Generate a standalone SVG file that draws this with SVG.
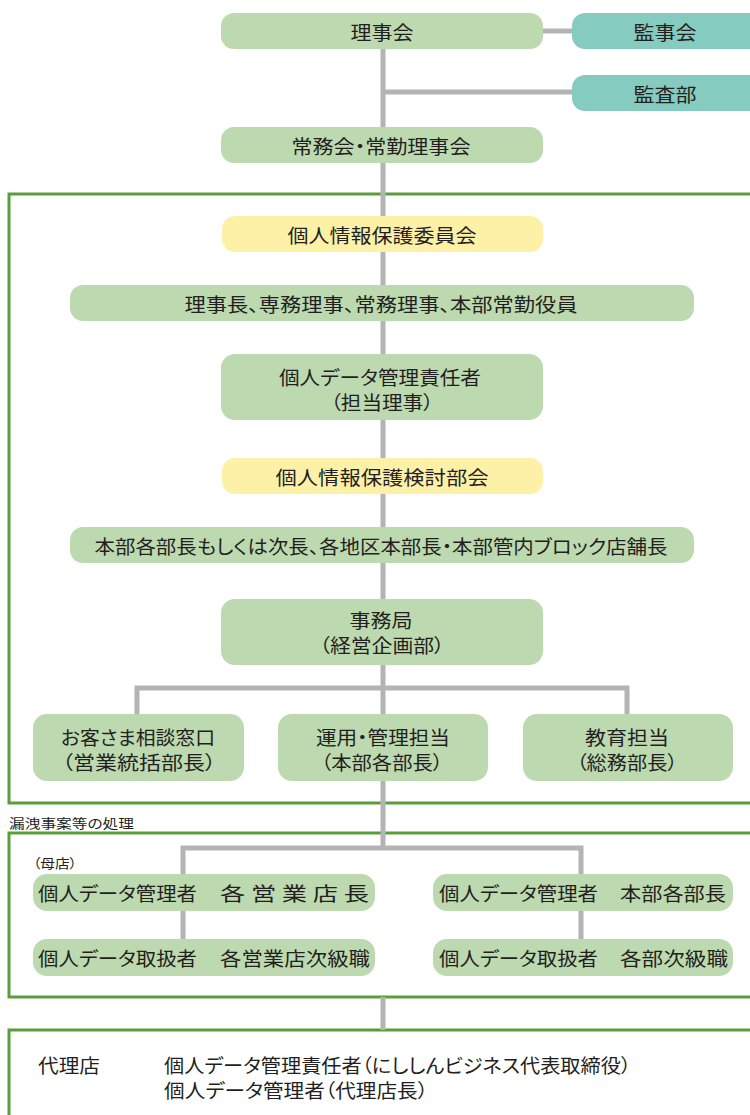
<svg xmlns="http://www.w3.org/2000/svg" width="750" height="1115" viewBox="0 0 750 1115">
<style>
.g{fill:#bdd9af}
.t{fill:#86cbbf}
.y{fill:#fdf1a8}
.fr{fill:none;stroke:#5a9e3c;stroke-width:3}
.ln{stroke:#b4b4b4;stroke-width:5;fill:none}
text{font-family:"Noto Sans CJK JP","Noto Sans",sans-serif;fill:#231f20;font-size:19px;dominant-baseline:central;text-anchor:middle;font-feature-settings:"palt"}
.s{font-size:13px;text-anchor:start}
.l{text-anchor:start}
</style>
<rect width="750" height="1115" fill="#ffffff"/>
<g id="frames">
<rect class="fr" x="9" y="194" width="760" height="609"/>
<rect class="fr" x="9" y="833" width="760" height="164"/>
<rect class="fr" x="9" y="1030" width="760" height="100"/>
</g>
<g id="connectors">
<line class="ln" x1="543" y1="31" x2="574" y2="31"/>
<line class="ln" x1="383" y1="49" x2="383" y2="848"/>
<line class="ln" x1="383" y1="92" x2="574" y2="92"/>
<polyline class="ln" points="137,715 137,688 627,688 627,715"/>
<polyline class="ln" points="183,940 183,848 581,848 581,940"/>
<line class="ln" x1="383" y1="997" x2="383" y2="1030"/>
</g>
<g id="n-rijikai"><rect class="g" x="221" y="13" width="322" height="36" rx="13"/><text x="382" y="31" textLength="63" lengthAdjust="spacingAndGlyphs">理事会</text></g>
<g id="n-kanjikai"><rect class="t" x="572" y="13" width="200" height="36" rx="13"/><text x="665" y="31" textLength="63" lengthAdjust="spacingAndGlyphs">監事会</text></g>
<g id="n-kansabu"><rect class="t" x="572" y="75" width="200" height="36" rx="13"/><text x="665" y="93" textLength="63" lengthAdjust="spacingAndGlyphs">監査部</text></g>
<g id="n-jomukai"><rect class="g" x="221" y="127" width="322" height="36" rx="13"/><text x="381" y="145" textLength="179" lengthAdjust="spacingAndGlyphs">常務会・常勤理事会</text></g>
<g id="n-iinkai"><rect class="y" x="222" y="216" width="321" height="36" rx="13"/><text x="382" y="234" textLength="189" lengthAdjust="spacingAndGlyphs">個人情報保護委員会</text></g>
<g id="n-rijicho"><rect class="g" x="70" y="285" width="624" height="36" rx="13"/><text x="381" y="303" textLength="393" lengthAdjust="spacingAndGlyphs">理事長、専務理事、常務理事、本部常勤役員</text></g>
<g id="n-sekininsha"><rect class="g" x="221" y="354" width="322" height="66" rx="14"/><text x="380" y="376" textLength="202" lengthAdjust="spacingAndGlyphs">個人データ管理責任者</text><text x="382" y="401" textLength="103" lengthAdjust="spacingAndGlyphs">（担当理事）</text></g>
<g id="n-bukai"><rect class="y" x="222" y="458" width="321" height="36" rx="13"/><text x="382" y="476" textLength="213" lengthAdjust="spacingAndGlyphs">個人情報保護検討部会</text></g>
<g id="n-buchou"><rect class="g" x="70" y="527" width="624" height="36" rx="13"/><text x="381" y="545" textLength="573" lengthAdjust="spacingAndGlyphs">本部各部長もしくは次長、各地区本部長・本部管内ブロック店舗長</text></g>
<g id="n-jimukyoku"><rect class="g" x="221" y="599" width="322" height="66" rx="14"/><text x="381" y="619" textLength="63" lengthAdjust="spacingAndGlyphs">事務局</text><text x="382" y="644" textLength="125" lengthAdjust="spacingAndGlyphs">（経営企画部）</text></g>
<g id="n-soudan"><rect class="g" x="33" y="714" width="211" height="67" rx="14"/><text x="138" y="736" textLength="154" lengthAdjust="spacingAndGlyphs">お客さま相談窓口</text><text x="139" y="761" textLength="154" lengthAdjust="spacingAndGlyphs">（営業統括部長）</text></g>
<g id="n-unyou"><rect class="g" x="278" y="714" width="210" height="67" rx="14"/><text x="383" y="736" textLength="134" lengthAdjust="spacingAndGlyphs">運用・管理担当</text><text x="382" y="761" textLength="122" lengthAdjust="spacingAndGlyphs">（本部各部長）</text></g>
<g id="n-kyouiku"><rect class="g" x="523" y="714" width="210" height="67" rx="14"/><text x="627" y="736" textLength="84" lengthAdjust="spacingAndGlyphs">教育担当</text><text x="627" y="761" textLength="101" lengthAdjust="spacingAndGlyphs">（総務部長）</text></g>
<g id="label-rouei"><text class="s" x="9" y="822" textLength="125" lengthAdjust="spacingAndGlyphs">漏洩事案等の処理</text></g>
<g id="label-boten"><text class="s" x="33" y="862" textLength="44" lengthAdjust="spacingAndGlyphs">（母店）</text></g>
<g id="n-kanri-eigyo"><rect class="g" x="33" y="874" width="342" height="37" rx="14"/><text class="l" x="38" y="892" textLength="159" lengthAdjust="spacingAndGlyphs">個人データ管理者</text><text class="l" x="220" y="892" textLength="149" lengthAdjust="spacingAndGlyphs">各 営 業 店 長</text></g>
<g id="n-toriatsukai-eigyo"><rect class="g" x="33" y="939" width="342" height="37" rx="14"/><text class="l" x="38" y="957" textLength="159" lengthAdjust="spacingAndGlyphs">個人データ取扱者</text><text class="l" x="220" y="957" textLength="150" lengthAdjust="spacingAndGlyphs">各営業店次級職</text></g>
<g id="n-kanri-honbu"><rect class="g" x="433" y="874" width="300" height="37" rx="14"/><text class="l" x="439" y="892" textLength="159" lengthAdjust="spacingAndGlyphs">個人データ管理者</text><text class="l" x="620" y="892" textLength="106" lengthAdjust="spacingAndGlyphs">本部各部長</text></g>
<g id="n-toriatsukai-honbu"><rect class="g" x="433" y="939" width="300" height="37" rx="14"/><text class="l" x="439" y="957" textLength="159" lengthAdjust="spacingAndGlyphs">個人データ取扱者</text><text class="l" x="620" y="957" textLength="108" lengthAdjust="spacingAndGlyphs">各部次級職</text></g>
<g id="n-dairiten"><text class="l" x="38" y="1064" textLength="62" lengthAdjust="spacingAndGlyphs">代理店</text><text class="l" x="164" y="1064" textLength="467" lengthAdjust="spacingAndGlyphs">個人データ管理責任者（にししんビジネス代表取締役）</text><text class="l" x="164" y="1089" textLength="264" lengthAdjust="spacingAndGlyphs">個人データ管理者（代理店長）</text></g>
</svg>
